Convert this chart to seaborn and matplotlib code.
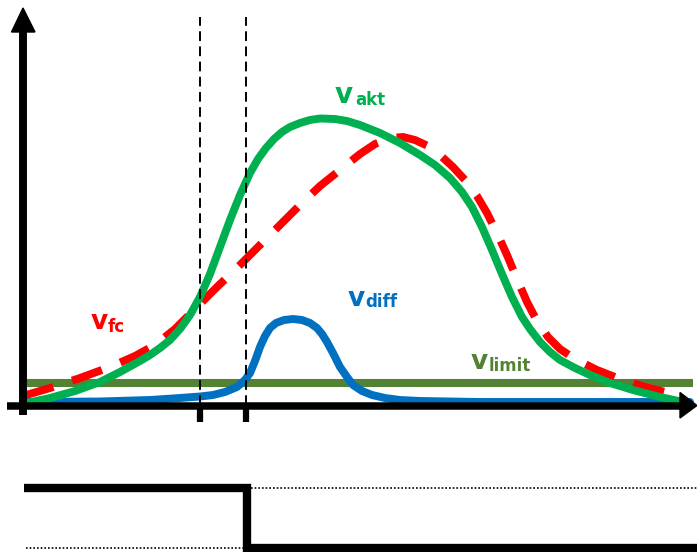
import numpy as np
import pandas as pd
import seaborn as sns
import matplotlib.pyplot as plt
from matplotlib.patches import Polygon

sns.set_theme(style="white")
plt.rcParams["font.family"] = ["DejaVu Sans"]

# ---- data: time axis positions and speed levels of the schematic ----
akt_t = [27, 50, 75, 100, 120, 140, 150, 160, 170, 180, 190, 200, 210, 220, 230,
         240, 250, 258, 266, 274, 282, 290, 300, 310, 320, 335, 347, 360, 380,
         400, 420, 435, 450, 462, 472, 482, 492, 502, 512, 522, 530, 540, 550,
         560, 575, 590, 610, 633, 660, 688]
akt_v = [2, 7, 14, 23, 33, 44, 50, 57, 65, 76, 90, 108, 131, 158, 185,
         210, 232, 246, 257, 266, 273, 278, 282, 285, 286.5, 286, 284, 280, 272,
         262, 250, 240, 227, 213, 198, 178, 155, 131, 108, 88, 76, 63, 53,
         45, 37, 30, 22, 15, 8, 2]

fc_t = [23, 50, 80, 110, 135, 155, 175, 193, 217, 240, 260, 280, 300, 320, 340,
        360, 375, 390, 403, 415, 428, 440, 453, 465, 477, 487, 497, 507, 517,
        527, 537, 548, 560, 575, 597, 620, 645, 665, 683]
fc_v = [9, 17, 27, 38, 49, 60, 76, 94, 118, 140, 160, 180, 200, 219, 235,
        251, 261, 267, 268, 265, 259, 250, 238, 225, 209, 192, 172, 150, 126,
        103, 84, 68, 56, 46, 35, 26, 18, 13, 8]

diff_t = [27, 100, 150, 180, 200, 213, 225, 237, 245, 250, 255, 260, 265, 270,
          276, 284, 293, 302, 310, 317, 322, 327, 333, 340, 347, 353, 362, 372,
          385, 400, 420, 480, 690]
diff_v = [3, 3.5, 5, 7, 8.5, 10, 13, 18, 25, 32, 44, 58, 69, 77,
          82, 85, 86, 85, 82, 77, 71, 63, 52, 38, 28, 20, 14, 10,
          7, 5, 4, 3, 3]

limit_t = [27, 693]
limit_v = [22.5, 22.5]

markers_t = [200, 246]          # the two marked instants

step_t = [24, 247, 247, 697]    # switching signal below the chart
step_v = [-82.5, -82.5, -143, -143]

GREEN = "#00B050"
RED = "#FF0000"
BLUE = "#0070C0"
OLIVE = "#548235"
LW = 5.7

fig = plt.figure(figsize=(6.97, 5.52), dpi=100)
ax = fig.add_axes([0, 0, 1, 1])
ax.set_xlim(0, 697)
ax.set_ylim(-147, 405)
ax.axis("off")

# speed limit
sns.lineplot(x=limit_t, y=limit_v, ax=ax, color=OLIVE, lw=5.8,
             solid_capstyle="butt", zorder=2)
# speed difference
sns.lineplot(x=diff_t, y=diff_v, ax=ax, color=BLUE, lw=LW,
             estimator=None, solid_joinstyle="round", zorder=3)
# forecast speed (dashed)
sns.lineplot(x=fc_t, y=fc_v, ax=ax, color=RED, lw=LW, estimator=None,
             linestyle=(0, (4.0, 2.5)), dash_capstyle="butt",
             dash_joinstyle="round", zorder=4)
# actual speed
sns.lineplot(x=akt_t, y=akt_v, ax=ax, color=GREEN, lw=LW, estimator=None,
             solid_joinstyle="round", solid_capstyle="butt", zorder=5)

# axes with arrow heads
ax.plot([23, 23], [-10, 375], color="black", lw=5.7, solid_capstyle="butt", zorder=6)
ax.add_patch(Polygon([[11.5, 373], [35, 373], [23, 397]], closed=True,
                     color="black", zorder=6))
ax.plot([7, 682], [-0.5, -0.5], color="black", lw=5.4, solid_capstyle="butt", zorder=6)
ax.add_patch(Polygon([[680, 12.5], [680, -13], [697, -0.5]], closed=True,
                     color="black", zorder=6))

# marked instants: dashed guides and ticks
for t in markers_t:
    ax.plot([t, t], [0, 388], color="black", lw=1.4,
            linestyle=(0, (5, 2.8)), zorder=7)
    ax.plot([t, t], [0, -17], color="black", lw=4.5, solid_capstyle="butt", zorder=7)

# switching signal
ax.plot(step_t, step_v, color="black", lw=6, solid_joinstyle="miter",
        solid_capstyle="butt", zorder=6)
ax.plot([251, 697], [-83, -83], color="black", lw=1.2,
        linestyle=(0, (1, 1.2)), zorder=5)
ax.plot([26, 243], [-143, -143], color="black", lw=1.2,
        linestyle=(0, (1, 1.2)), zorder=5)

# labels: main symbol plus subscript
labels = [
    ("v", "akt", GREEN, 335, 302, 355, 300, 20),
    ("v", "fc", RED, 91, 76, 108, 73, 19),
    ("v", "diff", BLUE, 348, 99, 365, 98, 19),
    ("v", "limit", OLIVE, 471, 36, 489, 34, 19),
]
for main, sub, col, x0, y0, x1, y1, fs in labels:
    ax.text(x0, y0, main, color=col, fontsize=fs, fontweight="bold",
            ha="left", va="baseline", zorder=8)
    ax.text(x1, y1, sub, color=col, fontsize=12, fontweight="bold",
            ha="left", va="baseline", zorder=8)

fig.savefig("out.png", dpi=100)
